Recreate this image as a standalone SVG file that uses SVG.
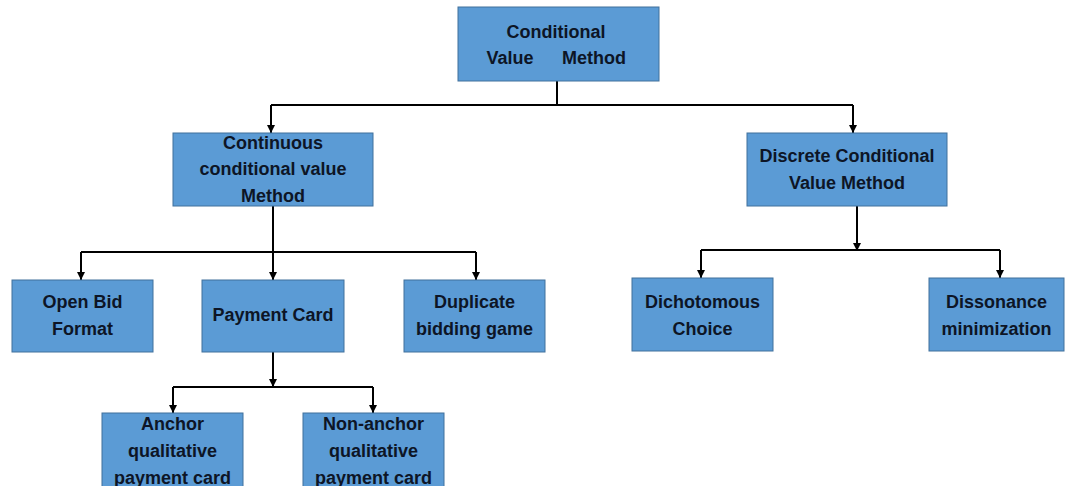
<svg xmlns="http://www.w3.org/2000/svg" width="1065" height="486" viewBox="0 0 1065 486">
  <style>
    .box { fill: #5b9bd5; stroke: #41719c; stroke-width: 1; }
    .lbl { font-family: "Liberation Sans", Arial, sans-serif; font-weight: bold; font-size: 18px; fill: #0d1526; text-anchor: middle; }
    .wire { fill: none; stroke: #000; stroke-width: 2; }
    .arr { fill: none; stroke: #000; stroke-width: 2; marker-end: url(#tip); }
  </style>
  <defs>
    <!-- small filled arrowhead, tip placed on the end of the line -->
    <marker id="tip" markerUnits="userSpaceOnUse" markerWidth="8" markerHeight="8" refX="8" refY="4" orient="auto" viewBox="0 0 8 8">
      <path d="M0 0 L8 4 L0 8 Z" fill="#000"/>
    </marker>
  </defs>
  <rect width="1065" height="486" fill="#ffffff"/>

  <!-- connectors -->
  <g id="connectors">
    <path class="wire" d="M557 81 V105 M271 105 H853"/>
    <path class="arr" d="M271 105 V133"/>
    <path class="arr" d="M853 105 V133"/>

    <path class="wire" d="M273 206 V252 M81 252 H476"/>
    <path class="arr" d="M81 252 V280"/>
    <path class="arr" d="M273 252 V280"/>
    <path class="arr" d="M476 252 V280"/>

    <path class="arr" d="M857 206 V251"/>
    <path class="wire" d="M701 250 H1000"/>
    <path class="arr" d="M701 250 V278"/>
    <path class="arr" d="M1000 250 V278"/>

    <path class="arr" d="M273 352 V387"/>
    <path class="wire" d="M173 387 H373"/>
    <path class="arr" d="M173 387 V413"/>
    <path class="arr" d="M373 387 V413"/>
  </g>

  <g id="conditional-value-method">
    <rect class="box" x="458" y="7" width="201" height="74"/>
    <text class="lbl" x="556" y="38">Conditional</text>
    <text class="lbl" x="510" y="64">Value</text>
    <text class="lbl" x="594" y="64">Method</text>
  </g>

  <g id="continuous-method">
    <rect class="box" x="173" y="133" width="200" height="73"/>
    <text class="lbl" x="273" y="149">Continuous</text>
    <text class="lbl" x="273" y="175">conditional value</text>
    <text class="lbl" x="273" y="202">Method</text>
  </g>

  <g id="discrete-method">
    <rect class="box" x="747" y="133" width="200" height="73"/>
    <text class="lbl" x="847" y="162">Discrete Conditional</text>
    <text class="lbl" x="847" y="189">Value Method</text>
  </g>

  <g id="open-bid">
    <rect class="box" x="12" y="280" width="141" height="72"/>
    <text class="lbl" x="82.5" y="308">Open Bid</text>
    <text class="lbl" x="82.5" y="335">Format</text>
  </g>

  <g id="payment-card">
    <rect class="box" x="202" y="280" width="142" height="72"/>
    <text class="lbl" x="273" y="321">Payment Card</text>
  </g>

  <g id="duplicate-bidding">
    <rect class="box" x="404" y="280" width="141" height="72"/>
    <text class="lbl" x="474.5" y="308">Duplicate</text>
    <text class="lbl" x="474.5" y="335">bidding game</text>
  </g>

  <g id="dichotomous-choice">
    <rect class="box" x="632" y="278" width="141" height="73"/>
    <text class="lbl" x="702.5" y="308">Dichotomous</text>
    <text class="lbl" x="702.5" y="335">Choice</text>
  </g>

  <g id="dissonance-minimization">
    <rect class="box" x="929" y="278" width="135" height="73"/>
    <text class="lbl" x="996.5" y="308">Dissonance</text>
    <text class="lbl" x="996.5" y="335">minimization</text>
  </g>

  <g id="anchor-card">
    <rect class="box" x="102" y="413" width="141" height="80"/>
    <text class="lbl" x="172.5" y="430">Anchor</text>
    <text class="lbl" x="172.5" y="457">qualitative</text>
    <text class="lbl" x="172.5" y="484">payment card</text>
  </g>

  <g id="non-anchor-card">
    <rect class="box" x="303" y="413" width="141" height="80"/>
    <text class="lbl" x="373.5" y="430">Non-anchor</text>
    <text class="lbl" x="373.5" y="457">qualitative</text>
    <text class="lbl" x="373.5" y="484">payment card</text>
  </g>
</svg>
